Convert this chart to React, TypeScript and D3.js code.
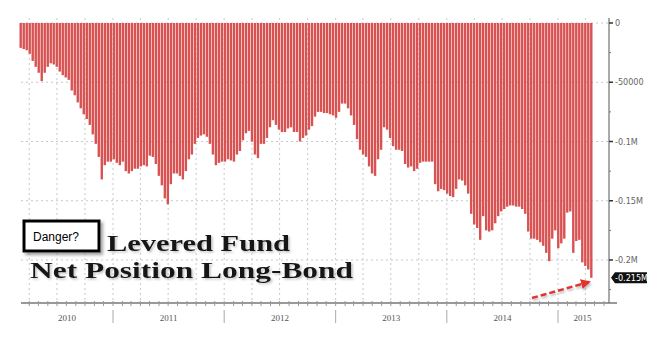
import React from "react";
import * as d3 from "d3";

// Net position (thousands of contracts), read left to right off the bars
const netPositionK: number[] = [
  -21, -22, -23, -26, -32, -37, -42, -49, -42, -37, -34, -35, -37, -41, -44, -46, -48,
  -57, -61, -67, -72, -77, -81, -86, -94, -102, -113, -132, -120, -117, -117, -115,
  -118, -120, -117, -125, -127, -125, -123, -123, -121, -120, -121, -112, -113, -119,
  -129, -137, -148, -153, -136, -127, -127, -129, -132, -125, -115, -111, -102, -97,
  -95, -94, -96, -102, -111, -120, -118, -117, -117, -115, -116, -117, -111, -108,
  -99, -93, -91, -100, -111, -114, -102, -102, -97, -88, -82, -86, -90, -92, -92, -89,
  -88, -92, -92, -100, -97, -95, -90, -87, -79, -75, -75, -76, -76, -77, -78, -80,
  -75, -68, -68, -72, -78, -86, -98, -107, -111, -113, -121, -127, -129, -115, -107,
  -88, -90, -97, -104, -107, -107, -108, -119, -122, -121, -125, -123, -118, -117,
  -117, -117, -117, -136, -142, -140, -141, -144, -146, -147, -140, -132, -133, -137,
  -144, -161, -170, -173, -183, -163, -175, -176, -175, -169, -163, -159, -157, -155,
  -154, -154, -155, -155, -157, -161, -176, -182, -182, -183, -185, -188, -194, -201,
  -182, -175, -190, -186, -182, -160, -159, -194, -184, -183, -202, -205, -208, -215,
];

const yTickValues: number[] = [0, -50000, -100000, -150000, -200000];
const yTickLabels: string[] = ["0", "-50000", "-0.1M", "-0.15M", "-0.2M"];
const yMinorValues: number[] = [-25000, -75000, -125000, -175000, -225000];
const years: number[] = [2010, 2011, 2012, 2013, 2014, 2015];
const lastValue = -215000;
const lastLabel = "-0.215M";

const W = 671;
const H = 357;
const plotLeft = 21;
const plotRight = 607;
const axisX = 609;
const axisY = 303;

export default function App() {
  const y = d3.scaleLinear().domain([0, -200000]).range([23, 260]);
  const xBand = d3
    .scaleBand<number>()
    .domain(netPositionK.map((_, i) => i))
    .range([19.5, 19.5 + netPositionK.length * 3])
    .paddingInner(0.2)
    .paddingOuter(0);
  const xTime = d3
    .scaleTime()
    .domain([new Date(2011, 0, 1), new Date(2015, 0, 1)])
    .range([113, 558]);

  const dStart = xTime.invert(plotLeft);
  const dEnd = xTime.invert(plotRight);
  const quarters = d3.timeMonth.every(3)!.range(dStart, dEnd);
  const months = d3.timeMonth.range(dStart, dEnd);
  const yearStarts = d3.timeYear.range(dStart, dEnd);

  const gridColor = "#c8c8c8";

  return (
    <svg
      width={W}
      height={H}
      style={{ position: "absolute", left: 0, top: 0, background: "#fff" }}
    >
      <defs>
        <filter id="tshadow" x="-10%" y="-20%" width="120%" height="150%">
          <feDropShadow dx="1.5" dy="1.5" stdDeviation="1.2" floodColor="#888" floodOpacity="0.55" />
        </filter>
        <filter id="bshadow" x="-10%" y="-10%" width="130%" height="140%">
          <feDropShadow dx="2.5" dy="2.5" stdDeviation="1.5" floodColor="#777" floodOpacity="0.7" />
        </filter>
        <filter id="ashadow" x="-10%" y="-50%" width="130%" height="250%">
          <feDropShadow dx="1" dy="2" stdDeviation="1" floodColor="#8a9a9a" floodOpacity="0.6" />
        </filter>
        <marker id="arrowHead" viewBox="0 0 10 10" refX="8" refY="5" markerWidth="4" markerHeight="4" orient="auto">
          <path d="M0,0 L10,5 L0,10 z" fill="#e4312d" />
        </marker>
      </defs>

      {/* horizontal grid */}
      {yTickValues.map((v) => (
        <line
          key={"hg" + v}
          x1={plotLeft}
          x2={axisX}
          y1={y(v)}
          y2={y(v)}
          stroke={gridColor}
          strokeDasharray="2 3"
          strokeWidth={1}
        />
      ))}
      {/* vertical grid at quarters */}
      {quarters.map((d) => (
        <line
          key={"vg" + d.getTime()}
          x1={xTime(d)}
          x2={xTime(d)}
          y1={18}
          y2={axisY}
          stroke={gridColor}
          strokeDasharray="2 3"
          strokeWidth={1}
        />
      ))}

      {/* bars */}
      {netPositionK.map((v, i) => (
        <rect
          key={"b" + i}
          x={xBand(i)!}
          y={y(0)}
          width={xBand.bandwidth()}
          height={y(v * 1000) - y(0)}
          fill="#d85252"
        />
      ))}

      {/* right axis */}
      <line x1={axisX} x2={axisX} y1={18} y2={axisY} stroke="#555" strokeWidth={1} />
      {yTickValues.map((v, i) => (
        <g key={"yt" + v}>
          <line x1={axisX} x2={axisX + 4} y1={y(v)} y2={y(v)} stroke="#333" strokeWidth={1.5} />
          <text
            x={axisX + 6}
            y={y(v)}
            dy="0.35em"
            fontSize={9}
            fontFamily="'DejaVu Sans Condensed', 'Liberation Sans', sans-serif"
            fill="#666"
          >
            {yTickLabels[i]}
          </text>
        </g>
      ))}
      {yMinorValues.map((v) => (
        <line key={"ym" + v} x1={axisX} x2={axisX + 2} y1={y(v)} y2={y(v)} stroke="#777" strokeWidth={1} />
      ))}
      {/* last value tag */}
      <g>
        <path
          d={`M${axisX + 2},${y(lastValue)} L${axisX + 6},${y(lastValue) - 5.5} L${axisX + 38},${y(lastValue) - 5.5} L${axisX + 38},${y(lastValue) + 5.5} L${axisX + 6},${y(lastValue) + 5.5} Z`}
          fill="#111"
        />
        <text
          x={axisX + 6}
          y={y(lastValue)}
          dy="0.35em"
          fontSize={9}
          fontFamily="'DejaVu Sans Condensed', 'Liberation Sans', sans-serif"
          fill="#fff"
        >
          {lastLabel}
        </text>
      </g>

      {/* bottom axis */}
      <line x1={plotLeft} x2={plotRight + 10} y1={axisY} y2={axisY} stroke="#777" strokeWidth={1.5} />
      {months.map((d) => (
        <line
          key={"mt" + d.getTime()}
          x1={xTime(d)}
          x2={xTime(d)}
          y1={axisY - 2}
          y2={axisY + 3}
          stroke="#999"
          strokeWidth={1}
        />
      ))}
      {yearStarts.map((d) => (
        <line
          key={"ys" + d.getTime()}
          x1={xTime(d)}
          x2={xTime(d)}
          y1={310}
          y2={323}
          stroke="#aaa"
          strokeWidth={1}
        />
      ))}
      {years.map((yr) => {
        const a = Math.max(plotLeft, xTime(new Date(yr, 0, 1)));
        const b = Math.min(plotRight, xTime(new Date(yr + 1, 0, 1)));
        return (
          <text
            key={"yl" + yr}
            x={(a + b) / 2}
            y={321}
            textAnchor="middle"
            fontSize={9}
            fontFamily="'Liberation Serif', serif"
            fill="#555"
          >
            {yr}
          </text>
        );
      })}

      {/* annotation */}
      <rect x={24} y={221} width={75} height={30} fill="#fff" stroke="#000" strokeWidth={3} filter="url(#bshadow)" />
      <text x={33} y={241} fontSize={12} fontFamily="'Liberation Sans', Arial, sans-serif" fill="#000">
        Danger?
      </text>
      <text
        x={107}
        y={251}
        fontSize={24}
        fontWeight="bold"
        fontFamily="'Liberation Serif', 'Times New Roman', serif"
        fill="#141414"
        textLength={183}
        lengthAdjust="spacingAndGlyphs"
        filter="url(#tshadow)"
      >
        Levered Fund
      </text>
      <text
        x={30}
        y={278}
        fontSize={24}
        fontWeight="bold"
        fontFamily="'Liberation Serif', 'Times New Roman', serif"
        fill="#141414"
        textLength={323}
        lengthAdjust="spacingAndGlyphs"
        filter="url(#tshadow)"
      >
        Net Position Long-Bond
      </text>

      {/* red dashed arrow */}
      <line
        x1={532}
        y1={298}
        x2={589}
        y2={282}
        stroke="#e4312d"
        strokeWidth={2.5}
        strokeDasharray="6 3"
        markerEnd="url(#arrowHead)"
        filter="url(#ashadow)"
      />
    </svg>
  );
}
